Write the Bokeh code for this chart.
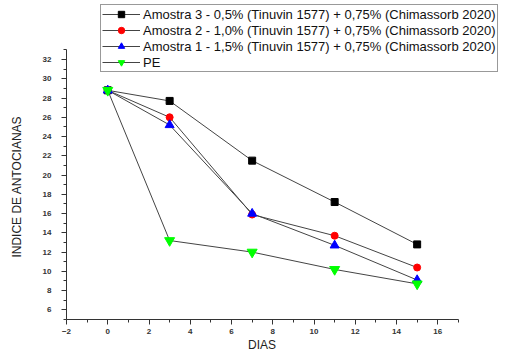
from bokeh.plotting import figure
from bokeh.models import Range1d, FixedTicker, Legend, LegendItem
from bokeh.embed import file_html
from bokeh.resources import INLINE

dias = [0, 3, 7, 11, 15]
amostra3 = [28.8, 27.7, 21.5, 17.2, 12.8]
amostra2 = [28.8, 26.0, 15.9, 13.7, 10.4]
amostra1 = [28.8, 25.2, 16.0, 12.7, 9.1]
pe = [28.8, 13.2, 12.0, 10.2, 8.7]

labels = [
    "Amostra 3 - 0,5% (Tinuvin 1577) + 0,75% (Chimassorb 2020)",
    "Amostra 2 - 1,0% (Tinuvin 1577) + 0,75% (Chimassorb 2020)",
    "Amostra 1 - 1,5% (Tinuvin 1577) + 0,75% (Chimassorb 2020)",
    "PE",
]
x_title = "DIAS"
y_title = "INDICE DE ANTOCIANAS"
x_ticks = [-2, 0, 2, 4, 6, 8, 10, 12, 14, 16]
y_ticks = [6, 8, 10, 12, 14, 16, 18, 20, 22, 24, 26, 28, 30, 32]
x_axis_bounds = (-2, 17)
y_axis_bounds = (5, 33)

NB = "\u00a0"
# frame spans to the canvas top/right so the legend (drawn inside the frame) is not clipped;
# the axis lines are limited with bounds
p = figure(width=507, height=354, output_backend="svg", toolbar_location=None,
           x_range=Range1d(-2, 19.38), y_range=Range1d(5, 38.13),
           min_border_left=66, min_border_right=0, min_border_top=0, min_border_bottom=31)
p.outline_line_color = None
p.xgrid.visible = False
p.ygrid.visible = False

FONT = "Liberation Sans"
for ax, ticks, lab, bnds in [(p.xaxis[0], x_ticks, x_title + NB * 15, x_axis_bounds),
                             (p.yaxis[0], y_ticks, y_title + NB * 16, y_axis_bounds)]:
    ax.ticker = FixedTicker(ticks=ticks, minor_ticks=[t + 1 for t in ticks] + [ticks[0] - 1])
    ax.bounds = bnds
    ax.axis_label = lab
    ax.axis_label_text_font = FONT
    ax.axis_label_text_font_style = "normal"
    ax.axis_label_text_font_size = "12px"
    ax.axis_label_text_color = "#222222"
    ax.major_label_text_font = FONT
    ax.major_label_text_font_size = "8px"
    ax.major_label_text_font_style = "bold"
    ax.major_label_text_color = "#333333"
    ax.axis_line_color = "#333333"
    ax.major_tick_line_color = "#333333"
    ax.minor_tick_line_color = "#333333"
    ax.major_tick_out = 5
    ax.major_tick_in = 0
    ax.minor_tick_out = 3
    ax.minor_tick_in = 0
p.xaxis.axis_label_standoff = 1
p.yaxis.axis_label_standoff = 16
p.xaxis.major_label_standoff = 4
p.yaxis.major_label_standoff = 10

lc = "#444444"
r3l = p.line(dias, amostra3, line_color=lc, line_width=1)
r3m = p.scatter(dias, amostra3, marker="square", size=7, fill_color="black", line_color="black")
r2l = p.line(dias, amostra2, line_color=lc, line_width=1)
r2m = p.scatter(dias, amostra2, marker="circle", size=7, fill_color="red", line_color="red")
r1l = p.line(dias, amostra1, line_color=lc, line_width=1)
r1m = p.scatter(dias, amostra1, marker="triangle", size=9, fill_color="blue", line_color="blue")
pel = p.line(dias, pe, line_color=lc, line_width=1)
pem = p.scatter(dias, pe, marker="inverted_triangle", size=10, fill_color="#00ff00", line_color="#00ff00")

legend = Legend(items=[
    LegendItem(label=labels[0], renderers=[r3l, r3m]),
    LegendItem(label=labels[1], renderers=[r2l, r2m]),
    LegendItem(label=labels[2], renderers=[r1l, r1m]),
    LegendItem(label=labels[3], renderers=[pel, pem]),
], location=(34, 247))
legend.label_text_font = FONT
legend.label_text_font_size = "13px"
legend.label_text_color = "#111111"
legend.glyph_width = 38
legend.glyph_height = 16
legend.label_height = 16
legend.label_standoff = 3
legend.spacing = 0
legend.padding = 1
legend.margin = 0
legend.border_line_color = "#333333"
legend.border_line_width = 1
legend.background_fill_alpha = 1
p.add_layout(legend, "center")

open("out.html", "w").write(file_html(p, INLINE))
